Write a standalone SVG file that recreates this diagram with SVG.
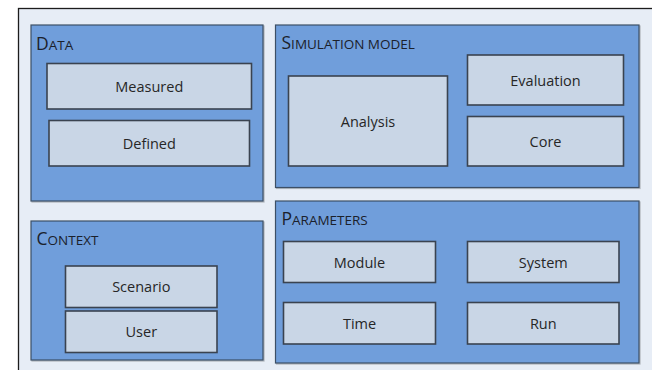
<svg xmlns="http://www.w3.org/2000/svg" width="652" height="370" viewBox="0 0 652 370">
  <defs>
    <filter id="shadow" x="-5%" y="-5%" width="110%" height="110%">
      <feDropShadow dx="1" dy="1" stdDeviation="0.6" flood-color="#000" flood-opacity="0.25"/>
    </filter>
  </defs>
  <style>
    .frame { fill: #e7edf6; stroke: #1c1c1c; stroke-width: 1.3; }
    .panel { fill: #6f9edb; stroke: #3d4f66; stroke-width: 1.2; filter: url(#shadow); }
    .box { fill: #c9d6e6; stroke: #3a4350; stroke-width: 1.6; }
    .label { font-family: "Open Sans", "Liberation Sans", sans-serif; font-size: 14.5px; fill: #262626; text-anchor: middle; dominant-baseline: central; }
    .title { font-family: "Open Sans", "Liberation Sans", sans-serif; font-size: 13.5px; fill: #1b212b; }
    .cap { font-size: 17.5px; }
  </style>

  <rect x="0" y="0" width="652" height="370" fill="#ffffff"/>
  <rect class="frame" x="18.5" y="8.5" width="660" height="380"/>

  <g id="data">
    <rect class="panel" x="31" y="25" width="232" height="176"/>
    <text class="title" x="36" y="49.5"><tspan class="cap">D</tspan>ATA</text>
  </g>
  <g id="measured">
    <rect class="box" x="47" y="63.5" width="204.5" height="45.5"/>
    <text class="label" x="149.3" y="86.3">Measured</text>
  </g>
  <g id="defined">
    <rect class="box" x="49" y="120.5" width="200.5" height="45.5"/>
    <text class="label" x="149.3" y="143.3">Defined</text>
  </g>

  <g id="simulation-model">
    <rect class="panel" x="275.5" y="25" width="363.5" height="162.5"/>
    <text class="title" x="281.5" y="48.5"><tspan class="cap">S</tspan>IMULATION MODEL</text>
  </g>
  <g id="analysis">
    <rect class="box" x="288.5" y="76" width="159" height="90"/>
    <text class="label" x="368" y="121">Analysis</text>
  </g>
  <g id="evaluation">
    <rect class="box" x="467.5" y="55" width="156" height="50"/>
    <text class="label" x="545.5" y="80">Evaluation</text>
  </g>
  <g id="core">
    <rect class="box" x="467.5" y="116.5" width="156" height="49.5"/>
    <text class="label" x="545.5" y="141.3">Core</text>
  </g>

  <g id="context">
    <rect class="panel" x="31" y="221" width="232" height="139"/>
    <text class="title" x="36.5" y="245"><tspan class="cap">C</tspan>ONTEXT</text>
  </g>
  <g id="scenario">
    <rect class="box" x="65.5" y="266" width="151.5" height="41.5"/>
    <text class="label" x="141.3" y="286.8">Scenario</text>
  </g>
  <g id="user">
    <rect class="box" x="65.5" y="311" width="151.5" height="41.5"/>
    <text class="label" x="141.3" y="331.8">User</text>
  </g>

  <g id="parameters">
    <rect class="panel" x="275.5" y="201" width="363.5" height="162"/>
    <text class="title" x="281.5" y="224.5"><tspan class="cap">P</tspan>ARAMETERS</text>
  </g>
  <g id="module">
    <rect class="box" x="283.5" y="241.5" width="152" height="41"/>
    <text class="label" x="359.5" y="262">Module</text>
  </g>
  <g id="time">
    <rect class="box" x="283.5" y="302.5" width="152" height="41.5"/>
    <text class="label" x="359.5" y="323.3">Time</text>
  </g>
  <g id="system">
    <rect class="box" x="467.5" y="241.5" width="151.5" height="41"/>
    <text class="label" x="543.3" y="262">System</text>
  </g>
  <g id="run">
    <rect class="box" x="467.5" y="302.5" width="151.5" height="41.5"/>
    <text class="label" x="543.3" y="323.3">Run</text>
  </g>

  <g id="connectors"></g>
</svg>
